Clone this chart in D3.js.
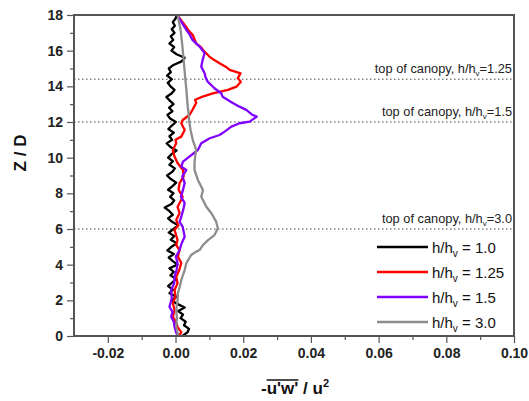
<!DOCTYPE html>
<html lang="en">
<head>
<meta charset="UTF-8">
<script src="https://d3js.org/d3.v7.min.js"></script>
<style>
  body { margin: 0; background: #fff; }
  svg { font-family: Arial, "Liberation Sans", sans-serif; }
</style>
</head>
<body>
<svg id="chart" width="529" height="401"></svg>
<script>
// [Z/D, -u'w'/u^2] pairs
const seriesLabels = ["1.0", "1.25", "1.5", "3.0"];
const seriesColors = ["#000000", "#ff0000", "#8000ff", "#8c8c8c"];

const profile10 = [
  [0.0, 0.002], [0.2, 0.0035], [0.4, 0.004], [0.6, 0.0025], [0.8, 0.003], [1.0, 0.0015],
  [1.2, 0.0022], [1.4, 0.0008], [1.6, 0.0027], [1.8, 0.0005], [2.0, -0.0012], [2.2, 0.0003],
  [2.4, -0.0018], [2.6, -0.0008], [2.8, -0.0022], [3.0, -0.001], [3.2, 0.0002], [3.4, -0.0015],
  [3.6, -0.0005], [3.8, -0.0018], [4.0, 0.0006], [4.2, -0.0008], [4.4, -0.002], [4.6, -0.0005],
  [4.8, -0.0024], [5.0, -0.0012], [5.2, 0.0004], [5.4, -0.0014], [5.6, -0.0004], [5.8, -0.002],
  [6.0, -0.0006], [6.2, 0.0008], [6.4, -0.001], [6.6, -0.0022], [6.8, -0.0008], [7.0, -0.0018],
  [7.2, -0.0032], [7.4, -0.0012], [7.6, -0.0004], [7.8, -0.0016], [8.0, -0.0006], [8.2, -0.0022],
  [8.4, -0.0009], [8.6, 0.0002], [8.8, -0.0014], [9.0, -0.0025], [9.2, -0.001], [9.4, -0.0002],
  [9.6, -0.0018], [9.8, -0.0008], [10.0, -0.0022], [10.2, -0.0012], [10.4, 0.0003], [10.6, -0.0015],
  [10.8, -0.0026], [11.0, -0.001], [11.2, -0.0018], [11.4, -0.0005], [11.6, -0.0021], [11.8, -0.0011],
  [12.0, 0.0001], [12.2, -0.0016], [12.4, -0.0024], [12.6, -0.0009], [12.8, -0.0019], [13.0, -0.0006],
  [13.2, -0.0017], [13.4, -0.0027], [13.6, -0.0012], [13.8, -0.0003], [14.0, -0.0015], [14.2, -0.0023],
  [14.4, -0.0011], [14.6, -0.0025], [14.8, -0.0014], [15.0, -0.002], [15.2, -0.0006], [15.4, 0.0018],
  [15.6, 0.0027], [15.8, 0.0003], [16.0, -0.0012], [16.2, -0.0004], [16.4, -0.0018], [16.6, -0.0007],
  [16.8, -0.0014], [17.0, -0.0003], [17.2, -0.0011], [17.4, -0.0002], [17.6, -0.0008], [17.8, 0.0],
  [18.0, 0.0004]
];

const profile125 = [
  [0.0, 0.0015], [0.06, 0.0012], [0.22, 0.0017], [0.5, 0.0006], [0.8, 0.0001], [1.07, -0.0008],
  [1.45, -0.0003], [1.85, -0.0008], [2.2, 0.0], [2.58, -0.0003], [2.95, 0.0006], [3.31, 0.0002],
  [3.7, 0.0011], [4.09, 0.0017], [4.45, 0.0007], [4.82, 0.0012], [5.1, 0.0002], [5.38, 0.0006],
  [5.95, -0.0003], [6.2, 0.0008], [6.51, 0.0002], [6.9, 0.0012], [7.23, 0.0006], [7.8, 0.0021],
  [8.2, 0.0009], [8.58, 0.0012], [8.95, 0.0024], [9.31, 0.0022], [9.7, 0.0006], [10.06, -0.0003],
  [10.43, -0.0008], [10.81, 0.0002], [11.0, 0.0], [11.18, 0.0017], [11.55, 0.0027], [11.93, 0.0017],
  [12.11, 0.0021], [12.39, 0.0041], [12.68, 0.005], [13.07, 0.0061], [13.25, 0.0058], [13.42, 0.008],
  [13.61, 0.011], [13.8, 0.0155], [13.98, 0.018], [14.26, 0.0193], [14.45, 0.0184], [14.6, 0.0188],
  [14.73, 0.0192], [14.92, 0.016], [15.1, 0.0148], [15.3, 0.013], [15.5, 0.0112], [15.67, 0.010],
  [16.04, 0.0081], [16.2, 0.0075], [16.4, 0.0061], [16.88, 0.0051], [17.15, 0.0038], [17.44, 0.0027],
  [17.95, 0.0007]
];

const profile15 = [
  [0.0, 0.0008], [0.17, 0.0002], [0.52, -0.0003], [0.8, -0.0005], [1.08, -0.0013], [1.35, -0.0009],
  [1.64, -0.0018], [2.1, -0.0011], [2.58, -0.0013], [2.95, -0.0004], [3.31, -0.0003], [3.7, 0.0003],
  [4.09, 0.0006], [4.45, 0.0001], [4.82, 0.0012], [5.2, 0.0018], [5.57, 0.0027], [6.13, 0.0021],
  [6.4, 0.0012], [6.69, 0.0017], [7.1, 0.0023], [7.46, 0.0027], [7.8, 0.0016], [8.19, 0.0022],
  [8.58, 0.0027], [8.95, 0.002], [9.31, 0.0032], [9.5, 0.0017], [9.78, 0.0022], [10.06, 0.0041],
  [10.43, 0.0066], [10.81, 0.0076], [11.09, 0.0101], [11.27, 0.013], [11.46, 0.0145], [11.74, 0.0165],
  [11.93, 0.0189], [12.02, 0.0219], [12.3, 0.024], [12.39, 0.0228], [12.68, 0.0209], [12.86, 0.0189],
  [13.07, 0.0169], [13.42, 0.0139], [13.61, 0.0135], [13.89, 0.0115], [14.26, 0.0095], [14.5, 0.0089],
  [14.73, 0.0086], [15.1, 0.0076], [15.48, 0.008], [15.86, 0.0086], [16.23, 0.0071], [16.6, 0.005],
  [16.9, 0.0042], [17.16, 0.0032], [17.95, 0.0006]
];

const profile30 = [
  [0.0, 0.0008], [0.17, 0.0006], [0.52, 0.0002], [1.0, 0.0004], [1.46, 0.0002], [2.0, 0.0006],
  [2.41, 0.0007], [2.8, 0.0013], [3.14, 0.0017], [3.7, 0.0027], [4.09, 0.0032], [4.54, 0.0046],
  [4.73, 0.0061], [4.82, 0.0071], [5.1, 0.0081], [5.38, 0.0096], [5.66, 0.0115], [6.04, 0.0125],
  [6.41, 0.012], [6.88, 0.0106], [7.25, 0.0091], [7.81, 0.0076], [8.19, 0.0081], [8.75, 0.0066],
  [9.31, 0.0056], [9.7, 0.0056], [10.1, 0.0058], [10.43, 0.0061], [10.99, 0.0051], [11.5, 0.0045],
  [11.95, 0.0041], [12.4, 0.0039], [12.86, 0.0036], [13.8, 0.0032], [14.6, 0.0028], [15.48, 0.0024],
  [16.3, 0.002], [17.16, 0.0015], [18.0, 0.0006]
];

const canopyTops = [14.4, 12.0, 6.0];
const canopyLabels = ["1.25", "1.5", "3.0"];

const xMajor = [-0.02, 0.00, 0.02, 0.04, 0.06, 0.08, 0.10];
const xMinor = [-0.01, 0.01, 0.03, 0.05, 0.07, 0.09];
const yMajor = [0, 2, 4, 6, 8, 10, 12, 14, 16, 18];
const yMinor = [1, 3, 5, 7, 9, 11, 13, 15, 17];

const svg = d3.select("#chart");
const plotL = 74, plotR = 514, plotT = 15, plotB = 336;
const axisColor = "#555";
const fontStack = "Arial, 'Liberation Sans', sans-serif";

const x = d3.scaleLinear().domain([-0.03, 0.10]).range([plotL, plotR]);
const y = d3.scaleLinear().domain([0, 18]).range([plotB, plotT]);

// minor ticks
svg.append("g")
  .attr("transform", `translate(0,${plotB})`)
  .call(d3.axisBottom(x).tickValues(xMinor).tickSize(4).tickFormat(""))
  .call(g => g.select(".domain").remove());
svg.append("g")
  .attr("transform", `translate(${plotL},0)`)
  .call(d3.axisLeft(y).tickValues(yMinor).tickSize(4).tickFormat(""))
  .call(g => g.select(".domain").remove());

// major ticks
svg.append("g")
  .attr("transform", `translate(0,${plotB})`)
  .call(d3.axisBottom(x).tickValues(xMajor).tickSize(7).tickPadding(5)
    .tickFormat(d => d.toFixed(2)))
  .call(g => g.select(".domain").remove())
  .call(g => g.selectAll("text").attr("font-size", 14).attr("font-weight", "bold")
    .attr("fill", "#222").attr("font-family", fontStack));
svg.append("g")
  .attr("transform", `translate(${plotL},0)`)
  .call(d3.axisLeft(y).tickValues(yMajor).tickSize(7).tickPadding(4))
  .call(g => g.select(".domain").remove())
  .call(g => g.selectAll("text").attr("font-size", 14).attr("font-weight", "bold")
    .attr("fill", "#222").attr("font-family", fontStack));

svg.selectAll(".tick line").attr("stroke", axisColor).attr("stroke-width", 1.2);

// canopy lines + notes
canopyTops.forEach((z, i) => {
  svg.append("line")
    .attr("x1", plotL).attr("x2", plotR)
    .attr("y1", y(z)).attr("y2", y(z))
    .attr("stroke", "#444").attr("stroke-width", 1)
    .attr("stroke-dasharray", "1.5,2.5");
  const t = svg.append("text")
    .attr("x", plotR - 2).attr("y", y(z) - 6)
    .attr("text-anchor", "end")
    .attr("font-size", 12.8).attr("fill", "#222");
  t.append("tspan").text("top of canopy, h/h");
  t.append("tspan").attr("dy", 3).attr("font-size", 8).text("v");
  t.append("tspan").attr("dy", -3).text("=" + canopyLabels[i]);
});

// profiles
const line = d3.line().x(d => x(d[1])).y(d => y(d[0]));
const profiles = [profile10, profile125, profile15, profile30];
profiles.forEach((p, i) => {
  svg.append("path")
    .datum(p)
    .attr("d", line)
    .attr("fill", "none")
    .attr("stroke", seriesColors[i])
    .attr("stroke-width", 2.3)
    .attr("stroke-linejoin", "round");
});

// frame
svg.append("rect")
  .attr("x", plotL).attr("y", plotT)
  .attr("width", plotR - plotL).attr("height", plotB - plotT)
  .attr("fill", "none").attr("stroke", axisColor).attr("stroke-width", 2);

// legend
seriesLabels.forEach((lab, i) => {
  const ly = 247 + i * 25;
  svg.append("line")
    .attr("x1", 377).attr("x2", 428).attr("y1", ly).attr("y2", ly)
    .attr("stroke", seriesColors[i]).attr("stroke-width", 2.3);
  const t = svg.append("text").attr("x", 432).attr("y", ly + 5.5)
    .attr("font-size", 15).attr("fill", "#111");
  t.append("tspan").text("h/h");
  t.append("tspan").attr("dy", 4).attr("font-size", 10).text("v");
  t.append("tspan").attr("dy", -4).text(" = " + lab);
});

// axis titles
svg.append("text")
  .attr("transform", "translate(26,153) rotate(-90)")
  .attr("text-anchor", "middle")
  .attr("font-size", 17).attr("font-weight", "bold").attr("fill", "#111")
  .text("Z / D");

const xt = svg.append("text")
  .attr("x", 295).attr("y", 394)
  .attr("text-anchor", "middle")
  .attr("font-size", 17).attr("font-weight", "bold").attr("fill", "#111");
xt.append("tspan").text("-u'w' / u");
xt.append("tspan").attr("dy", -7).attr("font-size", 11).text("2");

// overline over u'w'
const node = xt.node();
const start = node.getStartPositionOfChar(1).x;
const end = node.getEndPositionOfChar(4).x;
svg.append("line")
  .attr("x1", start).attr("x2", end)
  .attr("y1", 380).attr("y2", 380)
  .attr("stroke", "#111").attr("stroke-width", 1.5);
</script>
</body>
</html>
